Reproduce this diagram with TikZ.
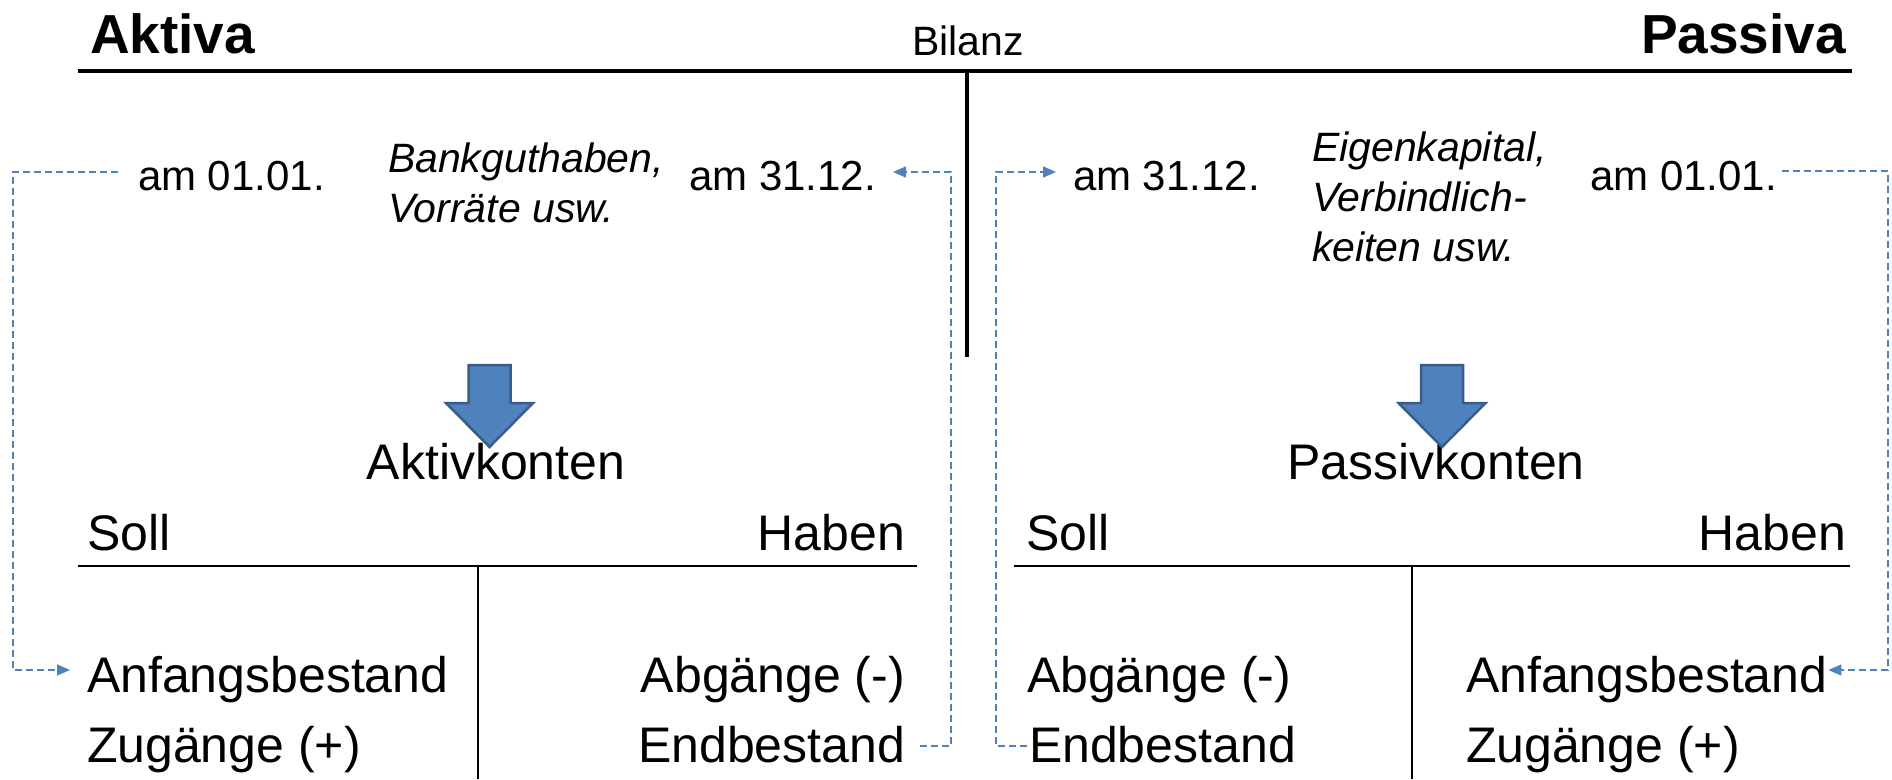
\documentclass[tikz,border=0pt]{standalone}
\usepackage{fontspec}
\setmainfont{Liberation Sans}
\usetikzlibrary{arrows.meta}
\definecolor{connblue}{HTML}{4F81BD}
\definecolor{arrfill}{HTML}{4F81BD}
\definecolor{arrline}{HTML}{385D8A}
\tikzset{
  txt/.style={inner sep=0pt, outer sep=0pt},
  hd/.style={txt, font=\fontsize{55}{60}\selectfont\bfseries},
  sm/.style={txt, font=\fontsize{41}{49}\selectfont},
  dt/.style={txt, font=\fontsize{42}{49}\selectfont},
  smit/.style={txt, font=\fontsize{41}{49}\selectfont\itshape},
  big/.style={txt, font=\fontsize{50}{58}\selectfont},
  toprule/.style={line width=3.5pt, black},
  trule/.style={line width=2.5pt, black},
  conn/.style={draw=connblue, line width=1.6pt, dash pattern=on 7pt off 4pt},
  tip/.style={-{Triangle[length=13pt,width=11pt]}},
  bigarrow/.style={fill=arrfill, draw=arrline, line width=2.5pt}
}
\begin{document}
\begin{tikzpicture}[x=1pt, y=-1pt]
\useasboundingbox (0,0) rectangle (1892,779);

% Bilanz header
\node[hd, anchor=base west] (aktiva) at (90,53) {Aktiva};
\node[hd, anchor=base east] (passiva) at (1846,53) {Passiva};
\node[sm, anchor=base] (bilanz) at (968,55) {Bilanz};
\draw[toprule] (78,71) -- (1852,71);
\draw[toprule] (967,71) -- (967,357);

% Bilanz content
\node[dt, anchor=base west] (amL) at (138,190) {am 01.01.};
\node[smit, anchor=base west] (bankA) at (388,172) {Bankguthaben,};
\node[smit, anchor=base west] (bankB) at (388,222) {Vorräte usw.};
\node[dt, anchor=base east] (am31L) at (876,190) {am 31.12.};
\node[dt, anchor=base west] (am31R) at (1073,190) {am 31.12.};
\node[smit, anchor=base west] (eigA) at (1312,161) {Eigenkapital,};
\node[smit, anchor=base west] (eigB) at (1312,211) {Verbindlich-};
\node[smit, anchor=base west] (eigC) at (1312,261) {keiten usw.};
\node[dt, anchor=base east] (amR) at (1777,190) {am 01.01.};

% Konten titles
\node[big, anchor=base] (aktk) at (496,479) {Aktivkonten};
\node[big, anchor=base] (passk) at (1436,479) {Passivkonten};

% big arrows
\draw[bigarrow] (468.5,365) -- (510.5,365) -- (510.5,403) -- (533,403) -- (489.5,447) -- (446,403) -- (468.5,403) -- cycle;
\draw[bigarrow] (1421,365) -- (1463,365) -- (1463,403) -- (1485.5,403) -- (1442,447) -- (1398.5,403) -- (1421,403) -- cycle;

% T accounts
\node[big, anchor=base west] (sollL) at (87,550) {Soll};
\node[big, anchor=base east] (habenL) at (905,550) {Haben};
\node[big, anchor=base west] (sollR) at (1026,550) {Soll};
\node[big, anchor=base east] (habenR) at (1846,550) {Haben};
\draw[trule] (78,566) -- (917,566);
\draw[trule] (478,566) -- (478,779);
\draw[trule] (1014,566) -- (1850,566);
\draw[trule] (1412,566) -- (1412,779);

\node[big, anchor=base west] (anfL) at (87,692) {Anfangsbestand};
\node[big, anchor=base west] (zugL) at (87,762) {Zugänge (+)};
\node[big, anchor=base east] (abgL) at (905,692) {Abgänge (-)};
\node[big, anchor=base east] (endL) at (905,762) {Endbestand};
\node[big, anchor=base west] (abgR) at (1027,692) {Abgänge (-)};
\node[big, anchor=base west] (endR) at (1029,762) {Endbestand};
\node[big, anchor=base west] (anfR) at (1466,692) {Anfangsbestand};
\node[big, anchor=base west] (zugR) at (1466,762) {Zugänge (+)};

% connectors
\draw[conn, tip] ([xshift=-20pt,yshift=18pt]amL.base west) -- ++(-105,0) |- ([xshift=-17pt,yshift=22pt]anfL.base west);
\draw[conn, tip] ([xshift=15pt,yshift=16pt]endL.base east) -- ++(31,0) |- ([xshift=17pt,yshift=18pt]am31L.base east);
\draw[conn, tip] ([xshift=-2pt,yshift=16pt]endR.base west) -- ++(-31,0) |- ([xshift=-17pt,yshift=18pt]am31R.base west);
\draw[conn, tip] ([xshift=5pt,yshift=19pt]amR.base east) -- ++(106,0) |- ([xshift=1pt,yshift=22pt]anfR.base east);
\end{tikzpicture}
\end{document}
